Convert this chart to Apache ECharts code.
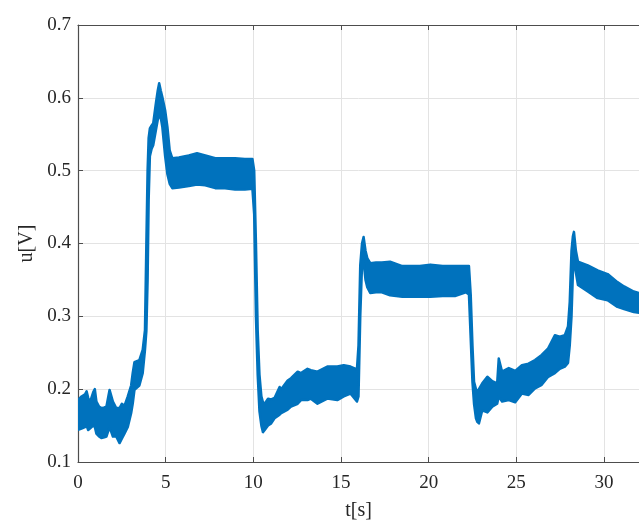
<!DOCTYPE html>
<html>
<head>
<meta charset="utf-8">
<script src="https://cdn.jsdelivr.net/npm/echarts@6/dist/echarts.min.js"></script>
<style>
html,body{margin:0;padding:0;background:#fff;}
#chart{width:639px;height:527px;}
</style>
</head>
<body>
<div id="chart"></div>
<script>
// time samples [s]
const t = [0, 0.2, 0.4, 0.49, 0.58, 0.68, 0.87, 0.96, 1.05, 1.2, 1.33, 1.5, 1.62, 1.8, 1.99, 2.18, 2.37, 2.5, 2.65, 2.84, 3.03, 3.12, 3.22, 3.5, 3.69, 3.82,
  3.9, 3.97, 4.03, 4.1, 4.2, 4.29, 4.44, 4.55, 4.63, 4.72, 4.81, 4.97, 5.1, 5.23, 5.38, 5.76, 6.32, 6.79, 7.26, 7.83, 8.39, 8.96, 9.52, 9.95,
  10.05, 10.15, 10.25, 10.35, 10.46, 10.55, 10.65, 10.84, 11.02, 11.21, 11.5, 11.59, 11.96, 12.15, 12.53, 12.72, 13.09, 13.28, 13.66, 14.22, 14.79, 15.16, 15.54, 15.91,
  16.0, 16.1, 16.2, 16.29, 16.4, 16.5, 16.67, 17.0, 17.33, 17.8, 18.5, 19.5, 20.1, 20.8, 21.5, 22.12, 22.3,
  22.4, 22.5, 22.59, 22.7, 22.78, 22.87, 23.06, 23.35, 23.63, 23.91, 24.0, 24.19, 24.57, 24.94, 25.32, 25.7, 26.07, 26.45, 26.82, 27.2, 27.48, 27.77, 27.95,
  28.05, 28.15, 28.23, 28.29, 28.4, 28.52, 29.08, 29.64, 30.21, 30.77, 31.15, 31.7, 32];
// upper envelope of the noisy voltage band [V]
const upper = [0.185, 0.190, 0.193, 0.197, 0.188, 0.182, 0.196, 0.200, 0.183, 0.176, 0.174, 0.175, 0.176, 0.199, 0.183, 0.174, 0.174, 0.180, 0.177, 0.190, 0.205, 0.222, 0.237, 0.240, 0.254, 0.281,
  0.400, 0.500, 0.545, 0.558, 0.562, 0.565, 0.592, 0.610, 0.620, 0.610, 0.601, 0.583, 0.560, 0.528, 0.517, 0.518, 0.521, 0.524, 0.521, 0.517, 0.517, 0.517, 0.516, 0.516,
  0.500, 0.400, 0.280, 0.220, 0.190, 0.182, 0.180, 0.187, 0.186, 0.188, 0.203, 0.200, 0.212, 0.215, 0.224, 0.222, 0.228, 0.226, 0.224, 0.231, 0.231, 0.233, 0.231, 0.227,
  0.260, 0.370, 0.400, 0.409, 0.390, 0.380, 0.373, 0.374, 0.374, 0.375, 0.369, 0.369, 0.371, 0.369, 0.369, 0.369, 0.369,
  0.330, 0.260, 0.210, 0.200, 0.196, 0.200, 0.208, 0.217, 0.211, 0.208, 0.242, 0.224, 0.229, 0.225, 0.233, 0.235, 0.240, 0.247, 0.256, 0.274, 0.272, 0.274, 0.286,
  0.320, 0.390, 0.410, 0.416, 0.390, 0.375, 0.370, 0.363, 0.358, 0.347, 0.341, 0.334, 0.332];
// lower envelope of the noisy voltage band [V]
const lower = [0.144, 0.146, 0.148, 0.150, 0.144, 0.146, 0.150, 0.148, 0.139, 0.135, 0.133, 0.134, 0.135, 0.148, 0.135, 0.135, 0.126, 0.132, 0.139, 0.148, 0.167, 0.180, 0.199, 0.205, 0.222, 0.254,
  0.280, 0.350, 0.460, 0.520, 0.530, 0.535, 0.555, 0.570, 0.575, 0.573, 0.560, 0.520, 0.495, 0.482, 0.476, 0.477, 0.479, 0.481, 0.480, 0.476, 0.476, 0.474, 0.474, 0.475,
  0.440, 0.300, 0.220, 0.170, 0.150, 0.141, 0.144, 0.150, 0.153, 0.160, 0.165, 0.167, 0.172, 0.176, 0.180, 0.185, 0.185, 0.187, 0.180, 0.187, 0.185, 0.190, 0.194, 0.183,
  0.190, 0.300, 0.370, 0.375, 0.350, 0.340, 0.332, 0.333, 0.333, 0.329, 0.327, 0.327, 0.327, 0.328, 0.328, 0.333, 0.330,
  0.270, 0.210, 0.180, 0.160, 0.155, 0.153, 0.171, 0.168, 0.176, 0.180, 0.190, 0.183, 0.185, 0.182, 0.194, 0.192, 0.201, 0.206, 0.217, 0.222, 0.228, 0.231, 0.236,
  0.260, 0.300, 0.360, 0.380, 0.360, 0.343, 0.334, 0.325, 0.322, 0.313, 0.310, 0.306, 0.305];

const xTicks = ['0', '5', '10', '15', '20', '25', '30'];
const yTicks = ['0.1', '0.2', '0.3', '0.4', '0.5', '0.6', '0.7'];

const BLUE = '#0072BD';
const AXIS = '#4d4d4d';
const GRIDC = '#e3e3e3';
const FONT = 'Liberation Serif';

const chart = echarts.init(document.getElementById('chart'), null, {renderer: 'canvas'});
chart.setOption({
  animation: false,
  backgroundColor: '#ffffff',
  grid: {left: 78, top: 25, width: 567, height: 437, containLabel: false},
  xAxis: [{
    type: 'value', min: 0, max: 32, interval: 5,
    name: 't[s]', nameLocation: 'middle', nameGap: 39,
    nameTextStyle: {fontFamily: FONT, fontSize: 20, color: '#262626'},
    axisLine: {show: true, lineStyle: {color: AXIS, width: 1.2}},
    axisTick: {show: true, inside: true, length: 5, lineStyle: {color: AXIS}},
    axisLabel: {fontFamily: FONT, fontSize: 19, color: '#262626', margin: 12, showMaxLabel: false,
      formatter: v => { const s = String(Math.round(v)); return xTicks.indexOf(s) >= 0 ? s : ''; }},
    splitLine: {show: true, lineStyle: {color: GRIDC, width: 1}}
  }, {
    type: 'value', position: 'top', min: 0, max: 32, interval: 5,
    axisLine: {show: true, onZero: false, lineStyle: {color: AXIS, width: 1.2}},
    axisTick: {show: true, inside: true, length: 5, lineStyle: {color: AXIS}},
    axisLabel: {show: false}, splitLine: {show: false}
  }],
  yAxis: [{
    type: 'value', min: 0.1, max: 0.7, interval: 0.1,
    name: 'u[V]', nameLocation: 'middle', nameGap: 38, nameRotate: 90,
    nameTextStyle: {fontFamily: FONT, fontSize: 20, color: '#262626'},
    axisLine: {show: true, lineStyle: {color: AXIS, width: 1.2}},
    axisTick: {show: true, inside: true, length: 5, lineStyle: {color: AXIS}},
    axisLabel: {fontFamily: FONT, fontSize: 19, color: '#262626', margin: 7,
      formatter: v => { const s = v.toFixed(1); return yTicks.indexOf(s) >= 0 ? s : ''; }},
    splitLine: {show: true, lineStyle: {color: GRIDC, width: 1}}
  }],
  series: [{
    type: 'custom', silent: true, clip: true,
    data: [[0, 0]],
    renderItem: function (params, api) {
      const pts = [];
      for (let i = 0; i < t.length; i++) pts.push(api.coord([t[i], upper[i]]));
      for (let i = t.length - 1; i >= 0; i--) pts.push(api.coord([t[i], lower[i]]));
      return {
        type: 'polygon',
        shape: {points: pts},
        style: {fill: BLUE, stroke: BLUE, lineWidth: 2.5, lineJoin: 'round'}
      };
    }
  }]
});
</script>
</body>
</html>
